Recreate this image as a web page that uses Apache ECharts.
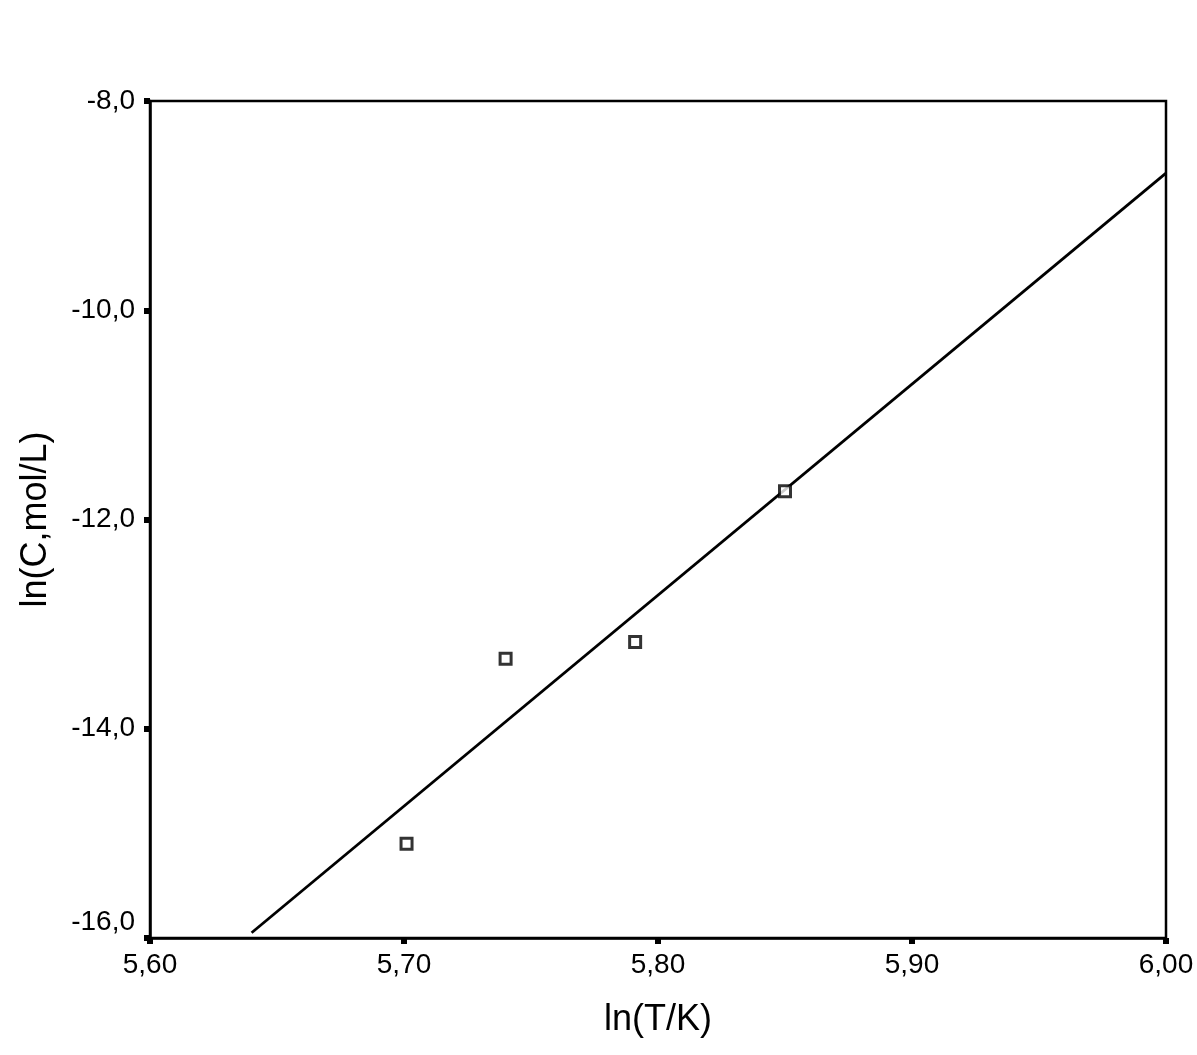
<!DOCTYPE html>
<html>
<head>
<meta charset="utf-8">
<script src="https://cdn.jsdelivr.net/npm/echarts@6/dist/echarts.min.js"></script>
<style>
  html, body { margin: 0; padding: 0; background: #fff; }
  #chart { width: 1197px; height: 1055px; }
</style>
</head>
<body>
<div id="chart"></div>
<script>
// measured points, ln(T/K) vs ln(C, mol/L)
const lnT = [5.701, 5.740, 5.791, 5.850];
const lnC = [-15.10, -13.33, -13.17, -11.73];

// fitted line ends as drawn
const fitX = [5.640, 6.00];
const fitY = [-15.95, -8.69];

const xTicks = ['5,60', '5,70', '5,80', '5,90', '6,00'];
const yTicks = ['-16,0', '-14,0', '-12,0', '-10,0', '-8,0'];

const FONT = '"Liberation Sans", Arial, sans-serif';

const chart = echarts.init(document.getElementById('chart'));

chart.setOption({
  animation: false,
  backgroundColor: '#fff',
  grid: {
    left: 150, top: 101, right: 31, bottom: 117,
    show: true,
    borderColor: '#000',
    borderWidth: 2.5
  },
  xAxis: {
    type: 'value',
    min: 5.6, max: 6.0, interval: 0.1,
    name: 'ln(T/K)',
    nameLocation: 'middle',
    nameGap: 64,
    nameTextStyle: { fontFamily: FONT, fontSize: 36, color: '#000' },
    splitLine: { show: false },
    axisLine: { lineStyle: { color: '#000', width: 2.5 } },
    axisTick: { length: 6, lineStyle: { color: '#000', width: 6 } },
    axisLabel: {
      margin: 13,
      fontFamily: FONT, fontSize: 28, color: '#000',
      formatter: (v) => xTicks[Math.round((v - 5.6) * 10)]
    }
  },
  yAxis: {
    type: 'value',
    min: -16, max: -8, interval: 2,
    name: 'ln(C,mol/L)',
    nameLocation: 'middle',
    nameGap: 96,
    nameTextStyle: { fontFamily: FONT, fontSize: 36, color: '#000' },
    splitLine: { show: false },
    axisLine: { lineStyle: { color: '#000', width: 2.5 } },
    axisTick: { length: 6, lineStyle: { color: '#000', width: 6 } },
    axisLabel: {
      margin: 15,
      fontFamily: FONT, fontSize: 28, color: '#000',
      formatter: (v) => {
        const s = yTicks[Math.round((v + 16) / 2)];
        return v === -16 ? '{up|' + s + '}' : s;
      },
      rich: {
        up: { fontFamily: FONT, fontSize: 28, color: '#000', padding: [0, 0, 32, 0] }
      }
    }
  },
  series: [
    {
      type: 'line',
      data: fitX.map((x, i) => [x, fitY[i]]),
      showSymbol: false,
      lineStyle: { color: '#000', width: 2.8 },
      z: 2
    },
    {
      type: 'scatter',
      data: lnT.map((x, i) => [x, lnC[i]]),
      symbol: 'rect',
      symbolSize: 11,
      itemStyle: { color: '#fff', borderColor: '#000', borderWidth: 3 },
      z: 3
    }
  ]
});
</script>
</body>
</html>
